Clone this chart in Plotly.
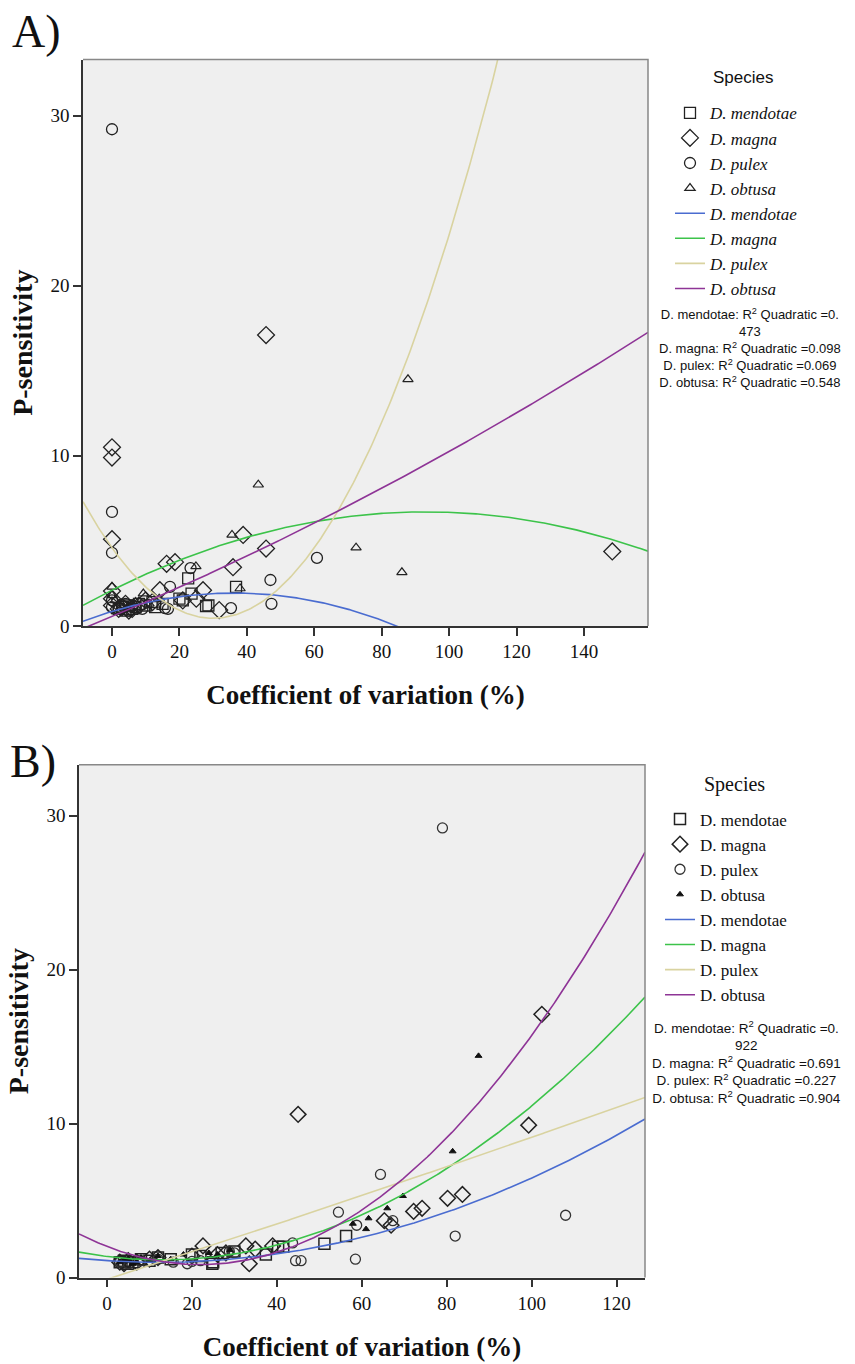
import numpy as np
import plotly.graph_objects as go

# ---------------- data ----------------
species = ["D. mendotae", "D. magna", "D. pulex", "D. obtusa"]

# Panel A : CV (%) vs P-sensitivity
a_mendotae_x = [2, 3, 4, 5, 6, 7, 8, 10, 12, 12.8, 15, 20, 21, 22.6, 23.6, 27.9, 28.6, 36.8]
a_mendotae_y = [1.0, 1.1, 0.9, 1.2, 1.0, 1.1, 1.3, 1.2, 1.4, 1.1, 1.3, 1.6, 1.5, 2.8, 1.9, 1.17, 1.2, 2.3]
a_magna_x = [0, 0, 0, 0, 0, 0, 2, 3, 4, 5, 6, 8, 10, 12, 14.2, 16.2, 18.7, 21, 25, 27, 31.8, 35.9, 38.9, 45.7, 45.7, 148.4]
a_magna_y = [10.5, 9.9, 5.1, 2.05, 1.6, 1.2, 1.0, 1.1, 1.3, 0.9, 1.0, 1.2, 1.5, 1.4, 2.1, 3.65, 3.75, 1.5, 1.6, 2.1, 0.93, 3.45, 5.35, 4.55, 17.1, 4.38]
a_pulex_x = [0, 0, 0, 0, 0, 2, 3, 4, 5, 6, 7, 9, 15.7, 16.6, 17.2, 23.3, 35.3, 47, 47.3, 60.8]
a_pulex_y = [29.2, 6.7, 4.3, 1.5, 1.1, 1.0, 1.2, 1.3, 0.9, 1.2, 1.1, 1.0, 1.05, 1.0, 2.3, 3.4, 1.05, 2.7, 1.3, 4.0]
a_obtusa_x = [0, 0, 1, 3, 5, 7, 9.3, 11, 14, 24.9, 35.6, 38, 43.4, 72.4, 86, 87.8]
a_obtusa_y = [2.3, 1.8, 1.5, 1.2, 1.0, 1.4, 1.9, 1.3, 1.6, 3.5, 5.35, 2.2, 8.3, 4.6, 3.15, 14.5]

# quadratic fit coefficients (c0, c1, c2)
a_fit_mendotae = [0.85, 0.060, -0.00083]
a_fit_magna = [2.10, 0.0990, -0.000532]
a_fit_pulex = [4.59, -0.276, 0.0046]
a_fit_obtusa = [0.55, 0.0833, 0.000137]
a_r2 = ["0.473", "0.098", "0.069", "0.548"]

# Panel B
b_mendotae_x = [3, 4, 5, 6, 8, 10, 12, 15, 20, 22, 24.8, 25, 27, 30, 37.4, 40.3, 41.5, 51.2, 56.3]
b_mendotae_y = [1.0, 1.1, 0.9, 1.0, 1.2, 1.1, 1.3, 1.2, 1.5, 1.4, 0.9, 1.0, 1.6, 1.7, 1.5, 2.0, 2.0, 2.2, 2.7]
b_magna_x = [3, 4, 5, 7, 10, 12, 20, 22.6, 26, 28, 32.7, 33.5, 34.9, 39, 45, 65.3, 66.9, 72.2, 74.2, 80.2, 83.7, 99.3, 102.4]
b_magna_y = [1.0, 0.9, 1.1, 1.0, 1.2, 1.3, 1.4, 2.06, 1.5, 1.6, 2.06, 0.9, 1.85, 2.06, 10.6, 3.7, 3.4, 4.3, 4.5, 5.15, 5.4, 9.9, 17.1]
b_pulex_x = [3, 5, 8, 12, 15.6, 18.9, 20, 22, 28.8, 30, 43.7, 44.4, 45.7, 54.5, 58.5, 58.8, 64.4, 67.3, 79, 82, 108]
b_pulex_y = [1.0, 0.9, 1.1, 1.2, 1.0, 0.9, 1.05, 1.1, 1.7, 1.6, 2.25, 1.1, 1.1, 4.25, 1.2, 3.4, 6.7, 3.7, 29.2, 2.7, 4.05]
b_obtusa_x = [3, 4, 5, 6, 7, 8, 10, 12, 15, 18, 24, 26, 29, 57.9, 61, 61.6, 66, 69.7, 81.4, 87.5]
b_obtusa_y = [1.0, 1.1, 1.2, 0.9, 1.0, 1.3, 1.1, 1.4, 1.2, 1.5, 1.6, 1.5, 1.8, 3.5, 3.15, 3.85, 4.5, 5.3, 8.2, 14.4]

b_fit_mendotae = [1.10, -0.0175, 0.000711]
b_fit_magna = [1.373, -0.0343, 0.00132]
b_fit_pulex = [-0.12, 0.0885, 0.0000379]
b_fit_obtusa = [2.02, -0.107, 0.00244]
b_r2 = ["0.922", "0.691", "0.227", "0.904"]

x_ticks_a = [0, 20, 40, 60, 80, 100, 120, 140]
x_ticks_b = [0, 20, 40, 60, 80, 100, 120]
y_ticks = [0, 10, 20, 30]

# ---------------- style ----------------
curve_colors = ["#4a6cd0", "#3cc34a", "#d9d3a0", "#8e3496"]
SERIF = "Liberation Serif, Times New Roman, serif"
SANS = "Liberation Sans, Arial, sans-serif"
W, H = 855, 1364

x_range_a = [-8.6, 159]
x_range_b = [-6.6, 126.7]
y_range = [0, 33.3]

fig = go.Figure()


def add_panel(xs, ys, fits, xaxis, yaxis, legend, xr, italic, marker_defs):
    for i, (x, y) in enumerate(zip(xs, ys)):
        sym, size, col, lw = marker_defs[i]
        label = f"<i>{species[i]}</i>" if italic else species[i]
        fig.add_trace(go.Scatter(
            x=x, y=y, mode="markers", name=label,
            xaxis=xaxis, yaxis=yaxis, legend=legend,
            marker=dict(symbol=sym, size=size, color=col, line=dict(width=lw, color=col)),
        ))
    for i, c in enumerate(fits):
        xx = np.linspace(xr[0], xr[1], 300)
        yy = np.polyval(c[::-1], xx)
        label = f"<i>{species[i]}</i>" if italic else species[i]
        fig.add_trace(go.Scatter(
            x=xx, y=yy, mode="lines", name=label,
            xaxis=xaxis, yaxis=yaxis, legend=legend,
            line=dict(color=curve_colors[i], width=1.6),
        ))


markers_a = [("square-open", 11, "#222", 1.3), ("diamond-open", 13, "#222", 1.3),
             ("circle-open", 11, "#222", 1.3), ("triangle-up-open", 9, "#222", 1.2)]
markers_b = [("square-open", 11, "#222", 1.5), ("diamond-open", 12, "#222", 1.5),
             ("circle-open", 10, "#333", 1.3), ("triangle-up", 6, "#111", 1.0)]

add_panel([a_mendotae_x, a_magna_x, a_pulex_x, a_obtusa_x],
          [a_mendotae_y, a_magna_y, a_pulex_y, a_obtusa_y],
          [a_fit_mendotae, a_fit_magna, a_fit_pulex, a_fit_obtusa],
          "x", "y", "legend", x_range_a, True, markers_a)
add_panel([b_mendotae_x, b_magna_x, b_pulex_x, b_obtusa_x],
          [b_mendotae_y, b_magna_y, b_pulex_y, b_obtusa_y],
          [b_fit_mendotae, b_fit_magna, b_fit_pulex, b_fit_obtusa],
          "x2", "y2", "legend2", x_range_b, False, markers_b)

# plot boxes in pixel coordinates (left, right, top, bottom)
A_box = (83, 648, 60, 631)
B_box = (79, 645, 771, 1288)


def dom_x(b):
    return [b[0] / W, b[1] / W]


def dom_y(b):
    return [1 - b[3] / H, 1 - b[2] / H]


axis_common = dict(showgrid=False, zeroline=False, showline=True, linecolor="#333", linewidth=1.5,
                   ticks="outside", ticklen=8, tickwidth=1.5, tickcolor="#333",
                   tickfont=dict(family=SERIF, size=19, color="#111"), mirror=False)

xtitle = dict(text="<b>Coefficient of variation (%)</b>", font=dict(family=SERIF, size=27, color="#111"), standoff=24)
ytitle = dict(text="<b>P-sensitivity</b>", font=dict(family=SERIF, size=28, color="#111"), standoff=10)

fig.update_layout(
    width=W, height=H, margin=dict(l=0, r=0, t=0, b=0),
    paper_bgcolor="white", plot_bgcolor="#efefef",
    showlegend=True,
    xaxis=dict(domain=dom_x(A_box), range=x_range_a, tickvals=x_ticks_a, anchor="y", title=xtitle, **axis_common),
    yaxis=dict(domain=dom_y(A_box), range=y_range, tickvals=y_ticks, anchor="x", title=ytitle, **axis_common),
    xaxis2=dict(domain=dom_x(B_box), range=x_range_b, tickvals=x_ticks_b, anchor="y2", title=xtitle, **axis_common),
    yaxis2=dict(domain=dom_y(B_box), range=y_range, tickvals=y_ticks, anchor="x2", title=ytitle, **axis_common),
    legend=dict(x=670 / W, y=1 - 96 / H, xanchor="left", yanchor="top", bgcolor="rgba(0,0,0,0)",
                font=dict(family=SERIF, size=17, color="#111"), itemwidth=30, traceorder="normal"),
    legend2=dict(x=660 / W, y=1 - 808 / H, xanchor="left", yanchor="top", bgcolor="rgba(0,0,0,0)",
                 font=dict(family=SERIF, size=17, color="#111"), itemwidth=30, traceorder="normal"),
)

# top / right frame lines (grey)
for b in (A_box, B_box):
    fig.add_shape(type="path", xref="paper", yref="paper",
                  path=f"M {b[0]/W} {1-b[2]/H} L {b[1]/W} {1-b[2]/H} L {b[1]/W} {1-b[3]/H}",
                  line=dict(color="#888", width=1.5))


def ann(text, x, y, size, family, xanchor="center", yanchor="middle", align="center", color="#111"):
    fig.add_annotation(text=text, x=x / W, y=1 - y / H, xref="paper", yref="paper", showarrow=False,
                       xanchor=xanchor, yanchor=yanchor, align=align,
                       font=dict(family=family, size=size, color=color))


ann("A)", 10, 32, 46, SERIF, xanchor="left")
ann("B)", 8, 768, 46, SERIF, xanchor="left")
ann("Species", 743, 78, 17, SANS)
ann("Species", 734, 791, 20, SERIF)


def r2_text(r2):
    lines = [f"D. mendotae: R<sup>2</sup> Quadratic ={r2[0][:2]}<br>{r2[0][2:]}",
             f"D. magna: R<sup>2</sup> Quadratic ={r2[1]}",
             f"D. pulex: R<sup>2</sup> Quadratic ={r2[2]}",
             f"D. obtusa: R<sup>2</sup> Quadratic ={r2[3]}"]
    return "<br>".join(lines)


ann(r2_text(a_r2), 750, 306, 13, SANS, yanchor="top")
ann(r2_text(b_r2), 746, 1024, 13.5, SANS, yanchor="top")

fig.write_html("out.html", config={"displayModeBar": False},
               post_script="document.body.style.margin='0';document.body.style.overflow='hidden';")
